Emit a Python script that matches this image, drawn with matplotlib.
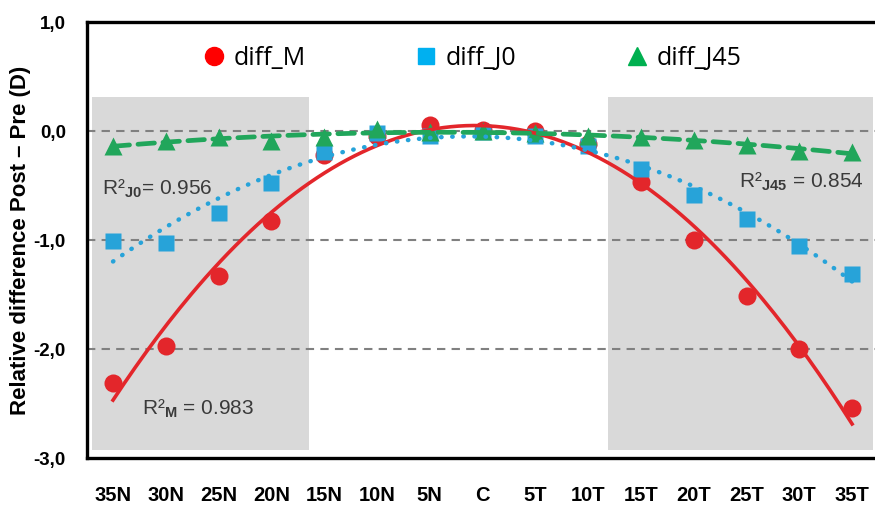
import numpy as np
import matplotlib.pyplot as plt
from matplotlib.lines import Line2D

plt.rcParams['font.family'] = ['Liberation Sans', 'DejaVu Sans']
plt.rcParams['mathtext.fontset'] = 'custom'
plt.rcParams['mathtext.rm'] = 'Liberation Sans'
plt.rcParams['mathtext.bf'] = 'Liberation Sans:bold'

positions = ['35N', '30N', '25N', '20N', '15N', '10N', '5N', 'C',
             '5T', '10T', '15T', '20T', '25T', '30T', '35T']
diff_M = [-2.31, -1.97, -1.33, -0.82, -0.22, -0.04, 0.06, 0.01,
          0.00, -0.12, -0.47, -1.00, -1.51, -2.00, -2.54]
diff_J0 = [-1.01, -1.03, -0.75, -0.48, -0.19, -0.02, -0.04, -0.01,
           -0.04, -0.14, -0.35, -0.59, -0.81, -1.05, -1.31]
diff_J45 = [-0.14, -0.09, -0.05, -0.09, -0.05, 0.02, -0.01, 0.00,
            -0.02, -0.04, -0.05, -0.08, -0.13, -0.18, -0.19]
y_ticks = [1.0, 0.0, -1.0, -2.0, -3.0]
y_labels = ['1,0', '0,0', '-1,0', '-2,0', '-3,0']

red = '#e3262b'
blue = '#27a3d9'
green = '#21a65b'

fig = plt.figure(figsize=(8.75, 5.05), dpi=100)
ax = fig.add_axes([0.099, 0.093, 0.905, 0.863])

x = np.arange(len(positions))

# gray zones
ax.axvspan(-0.4, 3.72, ymin=(-2.93 + 3) / 4, ymax=(0.31 + 3) / 4, color='#d9d9d9', zorder=0, lw=0)
ax.axvspan(9.38, 14.4, ymin=(-2.93 + 3) / 4, ymax=(0.31 + 3) / 4, color='#d9d9d9', zorder=0, lw=0)

for yv in [0.0, -1.0, -2.0]:
    ax.axhline(yv, color='#808080', lw=1.5, ls=(0, (4, 3)), zorder=1)

ax.plot(x, diff_M, 'o', color=red, ms=13, mec='none', zorder=3)
ax.plot(x, diff_J0, 's', color=blue, ms=12, mec='none', zorder=4)
ax.plot(x, diff_J45, '^', color=green, ms=13, mec='none', zorder=5)

# polynomial trend lines
xf = np.linspace(0, len(positions) - 1, 200)
pM = np.polyfit(x, diff_M, 2)
pJ0 = np.polyfit(x, diff_J0, 2)
pJ45 = np.polyfit(x, diff_J45, 2)
ax.plot(xf, np.polyval(pM, xf), '-', color=red, lw=2.6, zorder=6)
ax.plot(xf, np.polyval(pJ0, xf), color=blue, lw=3.2, ls=(0, (0.1, 2.4)),
        dash_capstyle='round', zorder=6)
ax.plot(xf, np.polyval(pJ45, xf), color=green, lw=3.4, ls=(0, (3.5, 1.8)),
        dash_capstyle='round', zorder=6)

ax.text(-0.21, -0.53, r'R²$_{\mathbf{J0}}$= 0.956', fontsize=15, color='#3a3a3a', va='center')
ax.text(0.55, -2.55, r'R²$_{\mathbf{M}}$ = 0.983', fontsize=15, color='#3a3a3a', va='center')
ax.text(11.86, -0.46, r'R²$_{\mathbf{J45}}$ = 0.854', fontsize=15, color='#3a3a3a', va='center')

handles = [
    Line2D([], [], ls='none', marker='o', color='#ff0000', ms=13),
    Line2D([], [], ls='none', marker='s', color='#00b0f0', ms=12),
    Line2D([], [], ls='none', marker='^', color='#00b050', ms=13),
]
ax.legend(handles, ['diff_M', 'diff_J0', 'diff_J45'], ncol=3, frameon=False,
          loc='center', bbox_to_anchor=(0.54, 0.885), bbox_transform=fig.transFigure,
          prop={'family': ['Open Sans', 'DejaVu Sans'], 'size': 18},
          handletextpad=0.4, columnspacing=4.4, handlelength=0.8)

ax.set_xlim(-0.5, 14.5)
ax.set_ylim(-3.0, 1.0)
ax.set_xticks(x)
ax.set_xticklabels(positions, fontsize=14.5, fontweight='bold')
ax.set_yticks(y_ticks)
ax.set_yticklabels(y_labels, fontsize=13.5, fontweight='bold')
ax.tick_params(axis='x', length=0, pad=20)
ax.tick_params(axis='y', length=0, pad=15)
ax.set_ylabel('Relative difference Post \u2013 Pre (D)', fontsize=16, fontweight='bold', labelpad=2)
for s in ax.spines.values():
    s.set_linewidth(2.4)

fig.savefig('out.png', dpi=100)
